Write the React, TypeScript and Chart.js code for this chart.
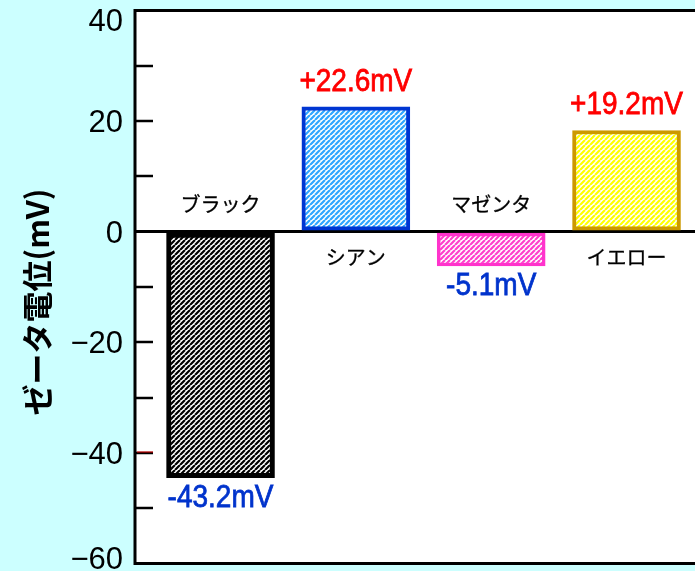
import React, { useEffect, useRef } from "react";
import { Chart, registerables } from "chart.js";

Chart.register(...registerables);

// ---- data ----
const categories = ["ブラック", "シアン", "マゼンタ", "イエロー"];
const positions = [1, 2, 3, 4];
const zetaValues = [-44.5, 22.6, -6.2, 18.3];
const valueLabels = ["-43.2mV", "+22.6mV", "-5.1mV", "+19.2mV"];
const yMin = -60;
const yMax = 40;
const yMinorStep = 10;
const yMajorStep = 20;
const axisTitle = "ゼータ電位(mV)";

// ---- styles ----
const hatchColors = ["#000000", "#2ea6ff", "#ff40cc", "#ffff00"];
const borderColors = ["#000000", "#0036d2", "#ff33cc", "#cc9900"];
const borderWidths = [5, 4, 3.5, 4];
const positiveLabelColor = "#ff0000";
const negativeLabelColor = "#0033cc";
const bgColor = "#ccffff";

function makeHatch(color: string): CanvasPattern | string {
  const s = 5;
  const c = document.createElement("canvas");
  c.width = s;
  c.height = s;
  const g = c.getContext("2d");
  if (!g) return color;
  g.fillStyle = "#ffffff";
  g.fillRect(0, 0, s, s);
  g.strokeStyle = color;
  g.lineWidth = 2.2;
  g.beginPath();
  for (let k = -1; k <= 1; k++) {
    g.moveTo(k * s, s);
    g.lineTo(k * s + s, 0);
  }
  g.stroke();
  const p = g.createPattern(c, "repeat");
  return p || color;
}

const decorPlugin = {
  id: "decor",
  beforeDraw(chart: any) {
    const { ctx, chartArea: a, width, height } = chart;
    ctx.save();
    ctx.fillStyle = bgColor;
    ctx.fillRect(0, 0, width, height);
    ctx.fillStyle = "#ffffff";
    ctx.fillRect(a.left, a.top, a.right - a.left, a.bottom - a.top);
    ctx.restore();
  },
  afterDraw(chart: any) {
    const { ctx, chartArea: a, height } = chart;
    const ys = chart.scales.y;
    ctx.save();
    // frame
    ctx.strokeStyle = "#000";
    ctx.lineWidth = 3;
    ctx.beginPath();
    ctx.moveTo(a.right + 5, a.top);
    ctx.lineTo(a.left, a.top);
    ctx.lineTo(a.left, a.bottom);
    ctx.lineTo(a.right + 5, a.bottom);
    ctx.stroke();
    // inward ticks and tick labels
    ys.ticks.forEach((t: any) => {
      const py = Math.round(ys.getPixelForValue(t.value));
      if (t.value % yMajorStep === 0) {
        ctx.fillStyle = "#000";
        ctx.font = "31px 'Liberation Sans', Arial, sans-serif";
        ctx.textAlign = "right";
        ctx.textBaseline = "middle";
        const lbl = t.value < 0 ? "\u2212" + Math.abs(t.value) : String(t.value);
        const ly = Math.min(Math.max(py + 2, a.top + 12), height - 11);
        ctx.fillText(lbl, a.left - 12, ly);
      }
      if (t.value === 0 || t.value === yMax || t.value === yMin) return;
      ctx.strokeStyle = "#000";
      ctx.lineWidth = 2.5;
      ctx.beginPath();
      ctx.moveTo(a.left, py);
      ctx.lineTo(a.left + 18, py);
      ctx.stroke();
      if (t.value === -40) {
        ctx.strokeStyle = "#e00000";
        ctx.lineWidth = 1;
        ctx.beginPath();
        ctx.moveTo(a.left + 2, py - 1);
        ctx.lineTo(a.left + 18, py - 1);
        ctx.stroke();
      }
    });
    // labels
    const zeroY = ys.getPixelForValue(0);
    const meta = chart.getDatasetMeta(0);
    meta.data.forEach((bar: any, i: number) => {
      const { x, y } = bar.getProps(["x", "y"], true);
      const v = zetaValues[i];
      ctx.textAlign = "center";
      ctx.textBaseline = "middle";
      ctx.fillStyle = "#000";
      ctx.strokeStyle = "#000";
      ctx.lineWidth = 0.3;
      ctx.font = "20px 'Noto Sans CJK JP'";
      const cy = v < 0 ? zeroY - 27 : zeroY + 26;
      ctx.fillText(categories[i], x, cy);
      ctx.strokeText(categories[i], x, cy);
      ctx.save();
      ctx.font = "32px 'Liberation Sans', Arial, sans-serif";
      const col = v < 0 ? negativeLabelColor : positiveLabelColor;
      ctx.fillStyle = col;
      ctx.strokeStyle = col;
      ctx.lineWidth = 0.8;
      const ly = v < 0 ? y + 20 : y - 25;
      ctx.translate(x, ly);
      ctx.scale(0.875, 1);
      ctx.fillText(valueLabels[i], 0, 0);
      ctx.strokeText(valueLabels[i], 0, 0);
      ctx.restore();
    });
    // axis title
    ctx.translate(37, (a.top + a.bottom) / 2 + 15);
    ctx.rotate(-Math.PI / 2);
    ctx.fillStyle = "#000";
    ctx.font = "bold 31px 'Noto Sans CJK JP'";
    ctx.textAlign = "center";
    ctx.textBaseline = "middle";
    ctx.fillText(axisTitle, 0, 0);
    ctx.restore();
  },
};

export default function App() {
  const ref = useRef<HTMLCanvasElement | null>(null);

  useEffect(() => {
    const canvas = ref.current;
    if (!canvas) return;
    const chart = new Chart(canvas, {
      type: "bar",
      data: {
        datasets: [
          {
            data: positions.map((p, i) => ({ x: p, y: zetaValues[i] })),
            backgroundColor: hatchColors.map((c) => makeHatch(c)),
            borderColor: borderColors,
            borderWidth: borderWidths,
            borderSkipped: false,
            barThickness: 108,
          } as any,
        ],
      },
      options: {
        responsive: false,
        animation: false,
        events: [],
        layout: { padding: { top: 10.5, bottom: 7.5, left: 0, right: 0 } },
        plugins: {
          legend: { display: false },
          tooltip: { enabled: false },
          title: { display: false },
        },
        scales: {
          x: {
            type: "linear",
            display: false,
            offset: false,
            min: 0.368,
            max: 4.506,
          },
          y: {
            min: yMin,
            max: yMax,
            afterFit: (scale: any) => {
              scale.width = 135;
            },
            border: { display: false },
            grid: {
              drawTicks: false,
              color: (ctx: any) => (ctx.tick && ctx.tick.value === 0 ? "#000" : "rgba(0,0,0,0)"),
              lineWidth: (ctx: any) => (ctx.tick && ctx.tick.value === 0 ? 3 : 0),
            },
            ticks: {
              display: false,
              stepSize: yMinorStep,
              autoSkip: false,
            },
          },
        },
      },
      plugins: [decorPlugin],
    });
    return () => chart.destroy();
  }, []);

  return (
    <div style={{ position: "fixed", left: 0, top: 0, width: 695, height: 571, background: bgColor }}>
      <canvas ref={ref} width={695} height={571} style={{ display: "block" }} />
    </div>
  );
}
